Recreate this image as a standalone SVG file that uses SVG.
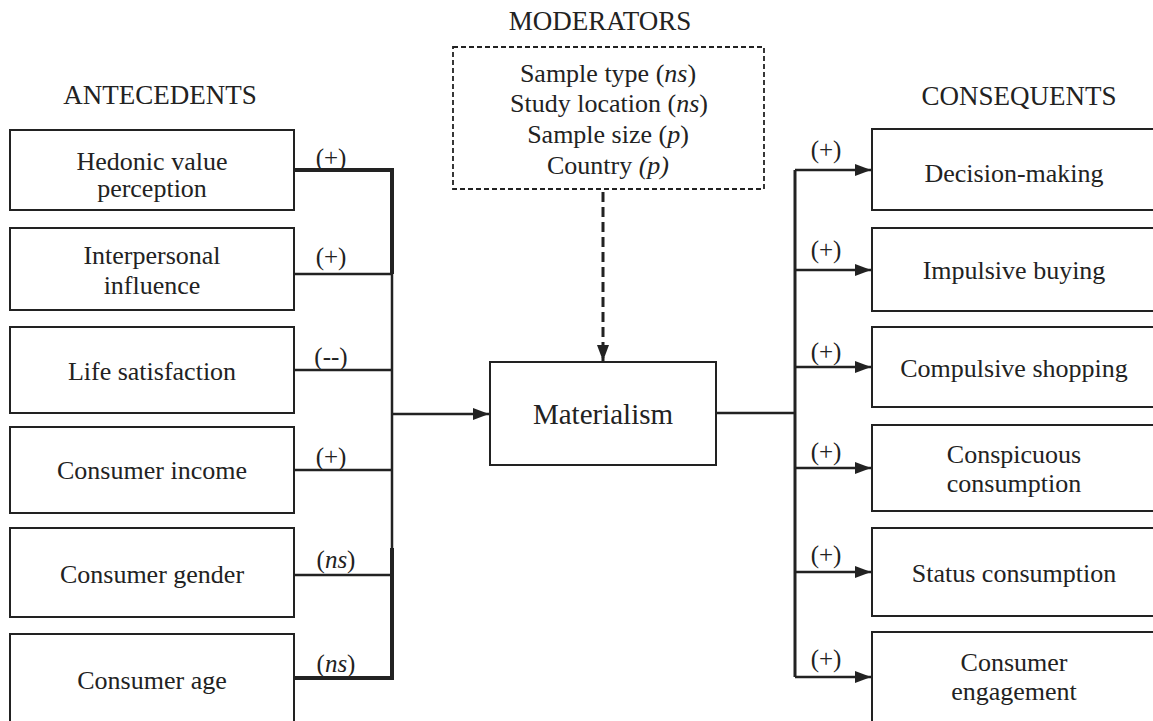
<svg xmlns="http://www.w3.org/2000/svg" width="1153" height="721" viewBox="0 0 1153 721">
<style>
text{font-family:"Liberation Serif","Times New Roman",serif;fill:#222;text-anchor:middle;font-size:26px}
.head{font-size:27px}
.lbl{font-size:25px}
.mat{font-size:29px}
.it{font-style:italic}
.box{fill:#fff;stroke:#222;stroke-width:2}
.dash{fill:#fff;stroke:#222;stroke-width:1.8;stroke-dasharray:5,3}
.ln{fill:none;stroke:#222;stroke-width:2.5}
.thick{fill:none;stroke:#222;stroke-width:4}
.dln{fill:none;stroke:#222;stroke-width:3;stroke-dasharray:10,5}
</style>
<defs>
<marker id="arr" viewBox="0 0 16 12" refX="16" refY="6" markerWidth="16" markerHeight="12" markerUnits="userSpaceOnUse" orient="auto">
<path d="M0,0 L16,6 L0,12 Z" fill="#222"/>
</marker>
</defs>
<rect width="1153" height="721" fill="#fff"/>
<text class="head" x="160" y="104">ANTECEDENTS</text>
<text class="head" x="600" y="30">MODERATORS</text>
<text class="head" x="1019" y="105">CONSEQUENTS</text>

<g id="connectors">
<path class="thick" d="M294,170 H392 V274"/>
<path class="ln" d="M392,274 V548"/>
<path class="thick" d="M392,548 V678 H294"/>
<path class="ln" d="M294,274 H392"/>
<path class="ln" d="M294,370 H392"/>
<path class="ln" d="M294,470 H392"/>
<path class="ln" d="M294,575 H392"/>
<path class="ln" d="M392,414 H489" marker-end="url(#arr)"/>
<path class="dln" d="M603,192 V361" marker-end="url(#arr)"/>
<path class="ln" d="M716,413 H795"/>
<path class="ln" d="M795,170 V677" style="stroke-width:3"/>
<path class="ln" d="M795,170 H871" marker-end="url(#arr)"/>
<path class="ln" d="M795,270 H871" marker-end="url(#arr)"/>
<path class="ln" d="M795,367 H871" marker-end="url(#arr)"/>
<path class="ln" d="M795,468 H871" marker-end="url(#arr)"/>
<path class="ln" d="M795,572 H871" marker-end="url(#arr)"/>
<path class="ln" d="M795,677 H871" marker-end="url(#arr)"/>
<text class="lbl" x="331" y="166">(+)</text>
<text class="lbl" x="331" y="265">(+)</text>
<text class="lbl" x="331" y="365">(--)</text>
<text class="lbl" x="331" y="465">(+)</text>
<text class="lbl" x="336" y="568">(<tspan class="it">ns</tspan>)</text>
<text class="lbl" x="336" y="672">(<tspan class="it">ns</tspan>)</text>
<text class="lbl" x="826" y="158">(+)</text>
<text class="lbl" x="826" y="258">(+)</text>
<text class="lbl" x="826" y="360">(+)</text>
<text class="lbl" x="826" y="460">(+)</text>
<text class="lbl" x="826" y="563">(+)</text>
<text class="lbl" x="826" y="667">(+)</text>
</g>

<g id="moderators">
<rect class="dash" x="453" y="47" width="311" height="142"/>
<text x="608" y="82">Sample type (<tspan class="it">ns</tspan>)</text>
<text x="609" y="112">Study location (<tspan class="it">ns</tspan>)</text>
<text x="608" y="143">Sample size (<tspan class="it">p</tspan>)</text>
<text x="608" y="174">Country <tspan class="it">(p)</tspan></text>
</g>

<g id="materialism">
<rect class="box" x="490" y="362" width="226" height="103"/>
<text class="mat" x="603" y="424">Materialism</text>
</g>

<g id="hedonic"><rect class="box" x="10" y="130" width="284" height="80"/>
<text x="152" y="170">Hedonic value</text><text x="152" y="197">perception</text></g>
<g id="interpersonal"><rect class="box" x="10" y="228" width="284" height="82"/>
<text x="152" y="264">Interpersonal</text><text x="152" y="294">influence</text></g>
<g id="life"><rect class="box" x="10" y="327" width="284" height="86"/>
<text x="152" y="380">Life satisfaction</text></g>
<g id="income"><rect class="box" x="10" y="427" width="284" height="86"/>
<text x="152" y="479">Consumer income</text></g>
<g id="gender"><rect class="box" x="10" y="528" width="284" height="89"/>
<text x="152" y="583">Consumer gender</text></g>
<g id="age"><rect class="box" x="10" y="634" width="284" height="100"/>
<text x="152" y="689">Consumer age</text></g>

<g id="decision"><rect class="box" x="872" y="129" width="300" height="81"/>
<text x="1014" y="182">Decision-making</text></g>
<g id="impulsive"><rect class="box" x="872" y="228" width="300" height="83"/>
<text x="1014" y="279">Impulsive buying</text></g>
<g id="compulsive"><rect class="box" x="872" y="327" width="300" height="80"/>
<text x="1014" y="377">Compulsive shopping</text></g>
<g id="conspicuous"><rect class="box" x="872" y="425" width="300" height="86"/>
<text x="1014" y="463">Conspicuous</text><text x="1014" y="492">consumption</text></g>
<g id="status"><rect class="box" x="872" y="528" width="300" height="88"/>
<text x="1014" y="582">Status consumption</text></g>
<g id="engagement"><rect class="box" x="872" y="632" width="300" height="100"/>
<text x="1014" y="671">Consumer</text><text x="1014" y="700">engagement</text></g>
</svg>
